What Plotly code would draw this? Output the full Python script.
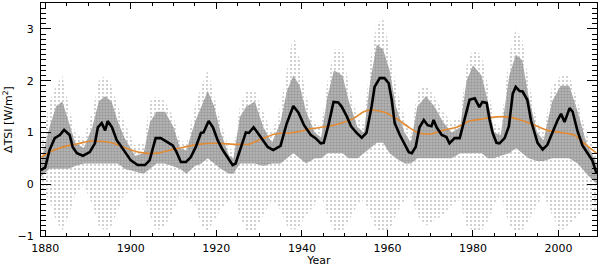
import plotly.graph_objects as go

# ---- smoothed (black) curve ----
black_year = [1879.0, 1880.0, 1881.0, 1882.2, 1883.4, 1884.4, 1885.7, 1886.4, 1887.4, 1888.8,
              1890.4, 1891.6, 1892.3, 1893.2, 1894.0, 1894.6, 1895.6, 1896.7, 1897.4, 1898.6,
              1900.0, 1901.6, 1903.3, 1904.4, 1905.1, 1905.8, 1907.0, 1907.9, 1908.6, 1909.8,
              1910.7, 1911.7, 1912.9, 1914.0, 1915.2, 1916.4, 1917.0, 1918.2, 1919.2, 1920.3,
              1921.5, 1922.7, 1923.8, 1924.5, 1925.7, 1926.9, 1927.6, 1928.7, 1929.7, 1930.8,
              1932.0, 1933.3, 1935.0, 1936.4, 1938.0, 1939.2, 1940.5, 1942.1, 1943.2, 1944.4,
              1945.1, 1946.2, 1947.4, 1948.5, 1949.3, 1950.5, 1951.5, 1952.8, 1954.0, 1955.1,
              1956.3, 1957.0, 1958.2, 1959.3, 1960.3, 1961.0, 1961.7, 1962.9, 1964.0, 1965.0,
              1965.7, 1966.6, 1967.5, 1968.5, 1969.4, 1970.3, 1970.8, 1971.5, 1972.7, 1973.8,
              1974.5, 1975.7, 1976.9, 1978.0, 1979.2, 1980.4, 1981.5, 1982.2, 1983.2, 1983.9,
              1984.6, 1985.5, 1986.2, 1987.4, 1988.4, 1989.3, 1990.0, 1990.9, 1991.6, 1992.7,
              1993.6, 1995.1, 1996.3, 1997.4, 1998.6, 1999.8, 2000.6, 2001.4, 2002.6, 2003.3,
              2004.4, 2005.6, 2006.8, 2007.9, 2008.9]
black_tsi = [0.27, 0.33, 0.66, 0.89, 0.95, 1.05, 0.95, 0.72, 0.60, 0.55,
             0.62, 0.79, 1.10, 1.18, 1.04, 1.22, 1.10, 0.85, 0.77, 0.62,
             0.46, 0.37, 0.37, 0.46, 0.69, 0.89, 0.89, 0.85, 0.81, 0.75,
             0.62, 0.43, 0.43, 0.52, 0.72, 0.99, 1.00, 1.22, 1.10, 0.85,
             0.66, 0.50, 0.37, 0.40, 0.72, 1.00, 0.99, 1.10, 0.99, 0.85,
             0.72, 0.66, 0.74, 1.16, 1.51, 1.38, 1.14, 0.95, 0.89, 0.79,
             0.80, 1.14, 1.59, 1.58, 1.50, 1.31, 1.12, 0.99, 0.90, 0.99,
             1.50, 1.88, 2.05, 2.05, 1.95, 1.63, 1.18, 0.95, 0.79, 0.62,
             0.60, 0.72, 1.10, 1.24, 1.14, 1.12, 1.24, 1.10, 0.95, 0.91,
             0.79, 0.89, 0.89, 1.24, 1.63, 1.66, 1.49, 1.59, 1.57, 1.24,
             0.99, 0.80, 0.79, 0.89, 1.12, 1.75, 1.88, 1.80, 1.79, 1.63,
             1.22, 0.80, 0.67, 0.76, 1.02, 1.24, 1.36, 1.20, 1.47, 1.40,
             1.04, 0.75, 0.60, 0.46, 0.21]

# ---- 11-year running mean (orange) ----
orange_year = [1879.0, 1881.0, 1883.4, 1885.7, 1888.0, 1890.4, 1892.8, 1895.0, 1897.4, 1900.0,
               1903.3, 1906.3, 1909.3, 1912.6, 1915.7, 1919.9, 1924.5, 1927.6, 1929.9, 1933.7,
               1938.1, 1942.8, 1947.4, 1951.8, 1954.7, 1957.0, 1959.3, 1962.6, 1965.0, 1967.3,
               1970.1, 1972.9, 1976.2, 1979.2, 1982.2, 1985.5, 1988.3, 1991.1, 1994.4, 1997.4,
               2000.5, 2003.7, 2006.0, 2008.9]
orange_tsi = [0.52, 0.62, 0.70, 0.75, 0.79, 0.83, 0.83, 0.81, 0.75, 0.66,
              0.60, 0.60, 0.66, 0.72, 0.77, 0.79, 0.77, 0.77, 0.85, 0.97,
              1.00, 1.08, 1.14, 1.26, 1.41, 1.43, 1.39, 1.24, 1.10, 0.99,
              0.97, 1.04, 1.10, 1.22, 1.26, 1.30, 1.30, 1.24, 1.14, 1.04,
              1.00, 0.95, 0.79, 0.60]

# ---- envelope of the daily values cloud (grey dots) ----
env_year = [1879, 1881, 1882.5, 1884, 1885.5, 1887, 1889,
            1891, 1892.5, 1894, 1895.5, 1897, 1898.5, 1901, 1903,
            1904.5, 1906, 1908, 1910, 1911.5, 1913,
            1915, 1916.5, 1918, 1919.5, 1921, 1923, 1924,
            1925.5, 1927, 1929, 1931, 1933,
            1935, 1936.5, 1938, 1939.5, 1941, 1943, 1944.5,
            1946, 1947.5, 1949.5, 1951, 1953, 1954.5,
            1956, 1957.5, 1959, 1960.5, 1962, 1964, 1965.5,
            1967, 1969, 1971, 1973, 1975, 1977,
            1978.5, 1980, 1982, 1983.5, 1985, 1986.5,
            1988.5, 1990, 1991.5, 1993, 1995, 1996.5,
            1998.5, 2000.5, 2002.5, 2004.5, 2006.5, 2009]
sparse_low = [-0.1, -0.3, -0.7, -0.9, -0.6, -0.2, 0.0,
              -0.4, -0.8, -0.9, -0.8, -0.5, -0.2, -0.1, -0.1,
              -0.6, -0.9, -0.8, -0.5, -0.2, -0.3,
              -0.4, -0.8, -0.9, -0.7, -0.5, -0.3, -0.2,
              -0.6, -0.9, -0.9, -0.6, -0.3,
              -0.5, -0.8, -0.9, -0.8, -0.6, -0.4, -0.2,
              -0.6, -0.9, -0.9, -0.7, -0.4, -0.3,
              -0.6, -0.9, -0.9, -0.9, -0.6, -0.3, -0.2,
              -0.6, -0.8, -0.7, -0.6, -0.4, -0.3,
              -0.8, -0.9, -0.9, -0.7, -0.4, -0.2,
              -0.8, -0.9, -0.9, -0.7, -0.4, -0.2,
              -0.6, -0.9, -0.8, -0.6, -0.5, -0.5]
dense_low = [0.15, 0.30, 0.30, 0.30, 0.30, 0.35, 0.40,
             0.40, 0.40, 0.40, 0.40, 0.40, 0.30, 0.25, 0.20,
             0.30, 0.40, 0.40, 0.35, 0.30, 0.20,
             0.35, 0.40, 0.50, 0.40, 0.30, 0.20, 0.20,
             0.40, 0.40, 0.40, 0.35, 0.40,
             0.40, 0.50, 0.60, 0.50, 0.40, 0.50, 0.50,
             0.60, 0.60, 0.60, 0.50, 0.50, 0.60,
             0.70, 0.80, 0.80, 0.60, 0.50, 0.40, 0.40,
             0.50, 0.50, 0.50, 0.50, 0.50, 0.60,
             0.60, 0.60, 0.60, 0.50, 0.50, 0.55,
             0.60, 0.70, 0.60, 0.50, 0.45, 0.45,
             0.50, 0.50, 0.50, 0.40, 0.20, 0.00]
dense_high = [0.45, 1.10, 1.50, 1.60, 1.20, 0.80, 0.70,
              1.10, 1.60, 1.70, 1.60, 1.20, 0.90, 0.55, 0.60,
              1.20, 1.40, 1.40, 1.10, 0.70, 0.65,
              1.20, 1.50, 1.80, 1.50, 1.00, 0.55, 0.50,
              1.30, 1.50, 1.60, 1.10, 0.80,
              1.20, 1.80, 2.10, 1.90, 1.40, 1.00, 0.90,
              1.70, 2.20, 2.10, 1.60, 1.10, 1.00,
              2.00, 2.70, 2.60, 2.20, 1.50, 1.00, 0.80,
              1.50, 1.70, 1.50, 1.20, 1.00, 1.10,
              2.00, 2.30, 2.10, 1.60, 1.00, 0.95,
              2.10, 2.50, 2.40, 1.70, 1.00, 0.85,
              1.60, 1.90, 1.90, 1.40, 0.80, 0.40]
sparse_high = [0.70, 1.60, 1.90, 2.10, 1.50, 1.00, 0.90,
               1.40, 2.00, 2.10, 1.90, 1.50, 1.20, 0.75, 0.80,
               1.60, 1.70, 1.60, 1.30, 0.85, 0.80,
               1.50, 1.90, 2.20, 1.70, 1.20, 0.70, 0.65,
               1.50, 1.80, 1.80, 1.40, 1.00,
               1.50, 2.20, 2.90, 2.40, 1.70, 1.20, 1.10,
               2.00, 2.60, 2.60, 1.90, 1.30, 1.20,
               2.40, 3.10, 3.20, 2.60, 1.90, 1.30, 0.95,
               1.80, 1.90, 1.70, 1.40, 1.20, 1.30,
               2.30, 2.60, 2.50, 1.90, 1.20, 1.10,
               2.50, 3.00, 2.80, 2.00, 1.20, 1.00,
               1.90, 2.10, 2.10, 1.60, 1.00, 0.60]

x_ticks = [1880, 1900, 1920, 1940, 1960, 1980, 2000]
y_ticks = [-1, 0, 1, 2, 3]

fig = go.Figure()


def band(low, high, **kw):
    fig.add_trace(go.Scatter(x=env_year, y=low, mode="lines", line=dict(width=0),
                             hoverinfo="skip", showlegend=False))
    fig.add_trace(go.Scatter(x=env_year, y=high, mode="lines", line=dict(width=0),
                             fill="tonexty", hoverinfo="skip", showlegend=False, **kw))


band(sparse_low, sparse_high, fillcolor="rgba(0,0,0,0)",
     fillpattern=dict(shape=".", size=4, solidity=0.17, fgcolor="#7a7a7a", bgcolor="#ffffff"))
band(dense_low, dense_high, fillcolor="#a0a0a0",
     fillpattern=dict(shape=".", size=3, solidity=0.5, fgcolor="#7c7c7c", bgcolor="#b8b8b8"))

fig.add_trace(go.Scatter(x=orange_year, y=orange_tsi, mode="lines",
                         line=dict(color="#e38b33", width=1.6, shape="spline", smoothing=0.6),
                         showlegend=False))
fig.add_trace(go.Scatter(x=black_year, y=black_tsi, mode="lines",
                         line=dict(color="black", width=2.6),
                         showlegend=False))

axis_font = dict(family="DejaVu Sans, Arial, sans-serif", size=11, color="black")
fig.update_layout(
    width=600, height=267,
    margin=dict(l=41, r=3, t=3, b=31),
    paper_bgcolor="white", plot_bgcolor="white",
    font=axis_font,
    xaxis=dict(range=[1879, 2009], tickvals=x_ticks, ticktext=[str(v) for v in x_ticks],
               ticks="inside", ticklen=6, tickcolor="black", tickwidth=1,
               ticklabelstandoff=2,
               minor=dict(dtick=5, tick0=1880, ticks="inside", ticklen=3, tickcolor="black"),
               showline=True, linecolor="black", linewidth=1.2, mirror="allticks",
               showgrid=False, zeroline=False,
               title=dict(text="Year", standoff=0, font=axis_font)),
    yaxis=dict(range=[-1, 3.5], tickvals=y_ticks, ticktext=["\u22121", "0", "1", "2", "3"],
               ticks="inside", ticklen=10, tickcolor="black", tickwidth=1,
               ticklabelstandoff=4,
               minor=dict(dtick=0.1, tick0=0, ticks="inside", ticklen=5, tickcolor="black"),
               showline=True, linecolor="black", linewidth=1.2, mirror="allticks",
               showgrid=False, zeroline=False,
               title=dict(text="\u0394TSI [W/m<sup>2</sup>]", standoff=2, font=axis_font)),
)

fig.write_html("out.html", config={"displayModeBar": False},
               post_script="document.body.style.margin='0';document.body.style.padding='0';")
